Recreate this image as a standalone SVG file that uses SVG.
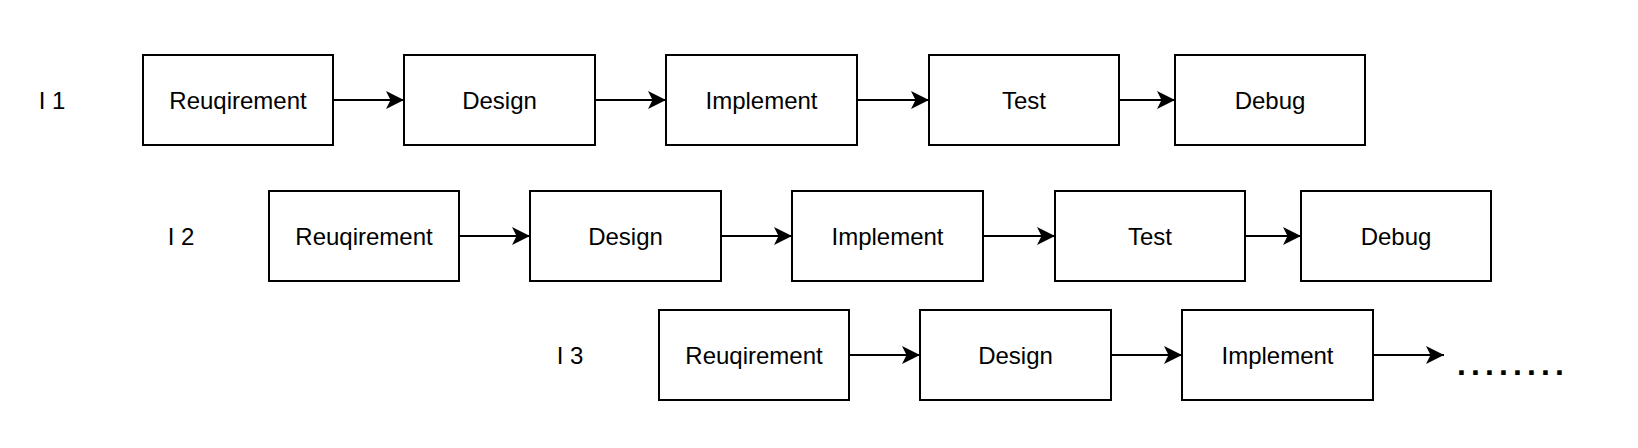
<svg xmlns="http://www.w3.org/2000/svg" width="1638" height="448" viewBox="0 0 1638 448">
<style>
  .box { fill: #ffffff; stroke: #000000; stroke-width: 2; }
  .lbl { font-family: "Liberation Sans", Arial, Helvetica, sans-serif; font-size: 24px; fill: #000000; text-anchor: middle; }
  .edge { stroke: #000000; stroke-width: 2; fill: none; marker-end: url(#arrow); }
  .dots { font-family: "Liberation Sans", Arial, Helvetica, sans-serif; font-size: 32px; font-weight: bold; fill: #000000; letter-spacing: 5.1px; }
</style>
<defs>
  <marker id="arrow" markerUnits="userSpaceOnUse" markerWidth="20" markerHeight="20" refX="18" refY="9" orient="auto">
    <path d="M0,0 L18,9 L0,18 L4.5,9 Z" fill="#000000"/>
  </marker>
</defs>
<rect width="1638" height="448" fill="#ffffff"/>

<g id="row-labels">
  <text id="label-i1" class="lbl" x="52" y="108.5">I 1</text>
  <text id="label-i2" class="lbl" x="181" y="244.5">I 2</text>
  <text id="label-i3" class="lbl" x="570" y="363.5">I 3</text>
</g>

<g id="connectors">
  <line class="edge" x1="334" y1="100" x2="404" y2="100"/>
  <line class="edge" x1="596" y1="100" x2="666" y2="100"/>
  <line class="edge" x1="858" y1="100" x2="929" y2="100"/>
  <line class="edge" x1="1120" y1="100" x2="1175" y2="100"/>

  <line class="edge" x1="460" y1="236" x2="530" y2="236"/>
  <line class="edge" x1="722" y1="236" x2="792" y2="236"/>
  <line class="edge" x1="984" y1="236" x2="1055" y2="236"/>
  <line class="edge" x1="1246" y1="236" x2="1301" y2="236"/>

  <line class="edge" x1="850" y1="355" x2="920" y2="355"/>
  <line class="edge" x1="1112" y1="355" x2="1182" y2="355"/>
  <line class="edge" x1="1374" y1="355" x2="1444" y2="355"/>
</g>

<g id="r1-req"><rect class="box" x="143" y="55" width="190" height="90"/><text class="lbl" x="238" y="108.5">Reuqirement</text></g>
<g id="r1-design"><rect class="box" x="404" y="55" width="191" height="90"/><text class="lbl" x="499.5" y="108.5">Design</text></g>
<g id="r1-impl"><rect class="box" x="666" y="55" width="191" height="90"/><text class="lbl" x="761.5" y="108.5">Implement</text></g>
<g id="r1-test"><rect class="box" x="929" y="55" width="190" height="90"/><text class="lbl" x="1024" y="108.5">Test</text></g>
<g id="r1-debug"><rect class="box" x="1175" y="55" width="190" height="90"/><text class="lbl" x="1270" y="108.5">Debug</text></g>

<g id="r2-req"><rect class="box" x="269" y="191" width="190" height="90"/><text class="lbl" x="364" y="244.5">Reuqirement</text></g>
<g id="r2-design"><rect class="box" x="530" y="191" width="191" height="90"/><text class="lbl" x="625.5" y="244.5">Design</text></g>
<g id="r2-impl"><rect class="box" x="792" y="191" width="191" height="90"/><text class="lbl" x="887.5" y="244.5">Implement</text></g>
<g id="r2-test"><rect class="box" x="1055" y="191" width="190" height="90"/><text class="lbl" x="1150" y="244.5">Test</text></g>
<g id="r2-debug"><rect class="box" x="1301" y="191" width="190" height="90"/><text class="lbl" x="1396" y="244.5">Debug</text></g>

<g id="r3-req"><rect class="box" x="659" y="310" width="190" height="90"/><text class="lbl" x="754" y="363.5">Reuqirement</text></g>
<g id="r3-design"><rect class="box" x="920" y="310" width="191" height="90"/><text class="lbl" x="1015.5" y="363.5">Design</text></g>
<g id="r3-impl"><rect class="box" x="1182" y="310" width="191" height="90"/><text class="lbl" x="1277.5" y="363.5">Implement</text></g>

<g id="r3-more"><text class="dots" x="1457" y="375">........</text></g>
</svg>
